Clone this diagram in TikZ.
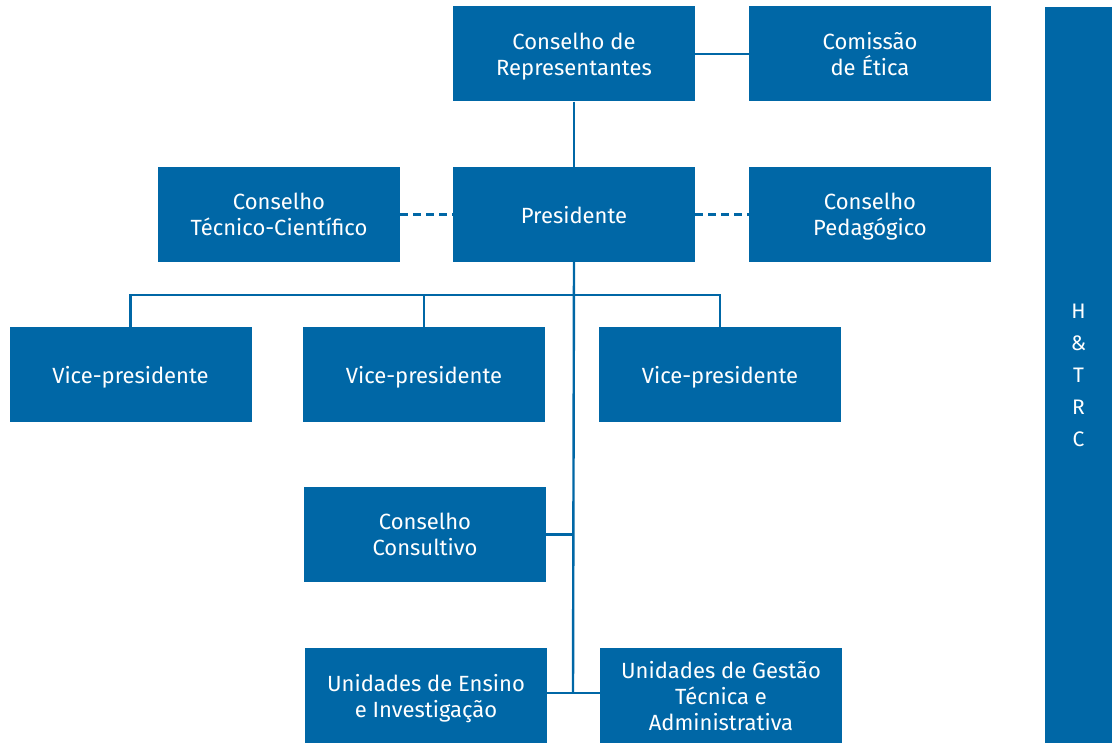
\documentclass[tikz,border=0pt]{standalone}
\usepackage{fontspec}
\setmainfont{Fira Sans}
\definecolor{boxblue}{RGB}{0,103,166}
\begin{document}
\begin{tikzpicture}[x=1pt,y=-1pt,
  box/.style={fill=boxblue,draw=none,minimum width=242pt,minimum height=95pt,inner sep=0pt,
    text=white,align=center,font=\fontsize{22}{26}\selectfont,text depth=-5pt},
  conn/.style={draw=boxblue,line width=2.4pt},
  dconn/.style={draw=boxblue,line width=2.4pt,dash pattern=on 8pt off 5pt}]
\useasboundingbox (0,0) rectangle (1112,743);
\node[box] (rep) at (574,54) {Conselho de\\Representantes};
\node[box] (etica) at (870,54) {Comissão\\de Ética};
\node[box] (tec) at (279,214.5) {Conselho\\Técnico-Científico};
\node[box] (pres) at (574,214.5) {Presidente};
\node[box] (ped) at (870,214.5) {Conselho\\Pedagógico};
\node[box] (vp1) at (130.5,374.5) {Vice-presidente};
\node[box] (vp2) at (424,374.5) {Vice-presidente};
\node[box] (vp3) at (720,374.5) {Vice-presidente};
\node[box] (cons) at (425,534.5) {Conselho\\Consultivo};
\node[box] (uei) at (426,695.5) {Unidades de Ensino\\e Investigação};
\node[box,text depth=0pt] (ugt) at (721,695.5) {Unidades de Gestão\\Técnica e\\Administrativa};
\node[fill=boxblue,minimum width=67pt,minimum height=736pt,inner sep=0pt,text=white,align=center,
  font=\fontsize{21}{32}\selectfont] (htrc) at (1078.5,375) {H\\\&\\T\\R\\C};
\coordinate (j) at (573,693);
\coordinate (bar) at (573,295);
\draw[conn] (rep.south) -- (pres.north);
\draw[conn] (rep.east) -- (etica.west);
\draw[dconn] (tec.east) -- (pres.west);
\draw[dconn] (pres.east) -- (ped.west);
\draw[conn] (pres.south) -- (j);
\draw[conn] (vp1.north) |- (bar) -| (vp3.north);
\draw[conn] (vp2.north) -- (vp2.north |- bar);
\draw[conn] (cons.east) -- (cons.east -| j);
\draw[conn] (uei.east |- j) -- (ugt.west |- j);
\end{tikzpicture}
\end{document}
